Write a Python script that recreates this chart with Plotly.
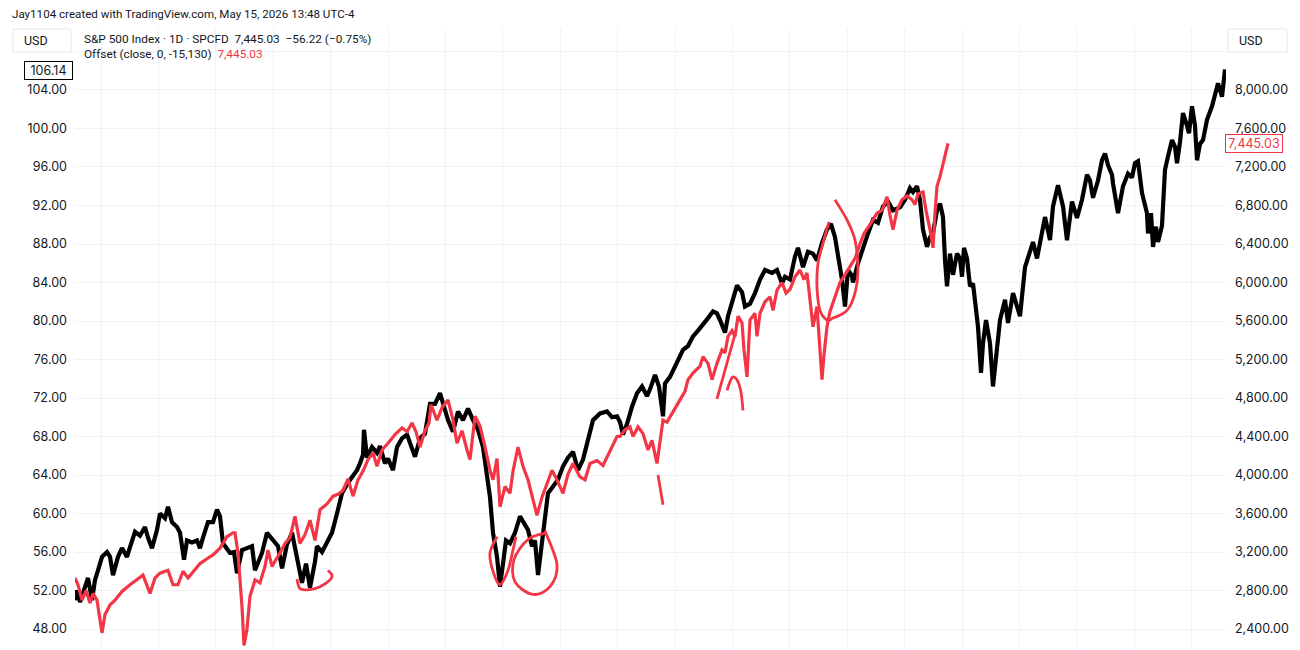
import plotly.graph_objects as go

# ---------------- data ----------------
# black series, left axis (USD), x = bar index
black_t = [0, 2, 5, 10, 13, 17, 20, 23, 27, 32, 35, 38, 43, 47, 52, 55, 60, 65, 70, 73, 77, 82, 85, 90, 93, 97,
           102, 105, 109, 112, 117, 122, 125, 128, 133, 138, 142, 145, 148, 155, 159, 162, 167, 172, 177, 180,
           187, 192, 198, 203, 207, 212, 217, 222, 227, 231, 235, 240, 242, 247, 252, 257, 262, 267, 273, 277,
           282, 285, 288, 289, 292, 297, 302, 305, 310, 313, 318, 322, 327, 332, 335, 340, 345, 350, 355, 360,
           365, 368, 373, 378, 383, 388, 393, 398, 403, 408, 412, 415, 418, 422, 425, 428, 431, 435, 440, 445,
           450, 453, 457, 460, 463, 467, 470, 473, 478, 483, 488, 493, 498, 503, 508, 513, 518, 525, 532, 537,
           542, 545, 548, 552, 557, 562, 567, 572, 575, 580, 584, 588, 590, 595, 598, 603, 608, 613, 618, 623,
           628, 633, 638, 642, 645, 650, 653, 658, 662, 667, 670, 675, 680, 685, 690, 697, 702, 707, 710, 715,
           720, 723, 728, 733, 738, 742, 747, 752, 756, 760, 763, 767, 770, 773, 777, 778, 783, 788, 793, 798,
           803, 808, 813, 818, 825, 830, 835, 838, 842, 845, 848, 852, 855, 858, 862, 865, 868, 870, 872, 875,
           878, 882, 885, 887, 889, 892, 895, 898, 900, 903, 906, 908, 911, 915, 918, 922, 925, 930, 933, 938,
           942, 945, 950, 953, 958, 962, 965, 970, 975, 978, 983, 988, 992, 997, 1002, 1007, 1012, 1015, 1018,
           1023, 1027, 1030, 1033, 1037, 1038, 1042, 1043, 1048, 1053, 1057, 1060, 1063, 1067, 1072, 1073, 1076,
           1078, 1081, 1083, 1087, 1090, 1093, 1097, 1100, 1102, 1105, 1108, 1112, 1114, 1117, 1120, 1122, 1125,
           1128, 1132, 1137, 1140, 1143, 1147, 1148, 1150]
black_v = [51.0, 52.0, 50.8, 52.4, 53.3, 51.0, 53.1, 54.1, 55.5, 56.0, 55.5, 53.6, 55.5, 56.4, 55.5, 56.5, 58.1,
           57.7, 58.6, 57.5, 56.4, 58.3, 60.0, 59.5, 60.7, 59.1, 58.6, 58.0, 55.2, 57.2, 57.0, 57.2, 56.4, 57.5,
           59.1, 59.1, 60.4, 59.7, 56.9, 55.9, 56.0, 53.8, 56.2, 56.4, 56.6, 54.1, 55.9, 58.0, 57.3, 56.6, 54.3,
           56.8, 58.0, 55.5, 52.8, 54.8, 52.3, 55.0, 56.6, 56.0, 57.0, 58.0, 60.0, 62.1, 63.2, 63.8, 64.5, 65.2,
           66.1, 68.7, 65.8, 66.9, 66.3, 67.0, 65.2, 65.7, 64.5, 66.9, 67.8, 68.2, 67.4, 65.9, 67.8, 68.3, 71.4,
           71.4, 72.5, 71.4, 69.7, 68.5, 70.6, 69.7, 70.9, 69.7, 68.7, 66.9, 64.3, 61.7, 58.0, 55.5, 52.4, 55.0,
           57.2, 56.9, 58.0, 59.7, 58.7, 58.3, 56.6, 57.2, 53.6, 56.9, 59.7, 62.1, 62.8, 63.5, 64.9, 65.8, 66.4,
           64.5, 65.6, 67.8, 69.7, 70.4, 70.6, 70.0, 70.1, 69.5, 68.2, 69.3, 71.1, 72.5, 73.2, 72.2, 72.9, 74.4,
           73.2, 70.1, 73.5, 74.2, 74.9, 75.9, 77.0, 77.4, 78.4, 79.0, 79.6, 80.3, 81.0, 80.8, 80.1, 78.8, 80.5,
           82.5, 83.7, 83.0, 81.5, 81.8, 82.9, 84.3, 85.3, 85.0, 85.3, 83.9, 84.6, 84.3, 86.7, 87.6, 85.6, 87.2,
           87.0, 86.3, 88.1, 89.5, 90.1, 88.7, 87.0, 84.3, 81.5, 85.3, 84.7, 84.0, 86.0, 87.7, 89.1, 90.5, 90.2,
           91.9, 92.4, 91.5, 91.8, 92.6, 93.8, 93.4, 94.0, 92.6, 89.5, 87.7, 88.7, 89.1, 91.5, 92.2, 90.8, 86.3,
           83.6, 87.0, 84.8, 87.0, 86.5, 84.6, 87.6, 86.5, 83.6, 83.9, 82.2, 79.4, 74.6, 77.7, 80.1, 77.7, 73.2,
           77.7, 80.1, 82.2, 79.8, 82.9, 81.6, 80.5, 85.6, 86.7, 88.2, 86.5, 88.2, 90.8, 88.4, 91.9, 94.1, 91.9,
           88.4, 92.4, 90.7, 92.6, 95.2, 94.6, 92.8, 94.6, 96.7, 97.4, 96.2, 95.2, 94.3, 92.2, 91.2, 94.0, 95.3,
           94.9, 96.4, 96.6, 93.3, 91.2, 89.1, 91.2, 87.7, 89.8, 88.2, 89.9, 95.7, 97.1, 98.8, 98.1, 96.4, 98.6,
           101.6, 100.3, 99.5, 102.3, 100.3, 96.7, 98.4, 98.8, 100.9, 102.3, 103.7, 104.7, 103.3, 104.5, 106.14]

# red series: Offset (close, 0, -15,130), right axis (USD)
red_t = [0, 3, 7, 11, 15, 18, 22, 27, 30, 35, 40, 47, 55, 62, 68, 75, 80, 85, 93, 98, 103, 108, 113, 117, 125,
         132, 138, 145, 152, 158, 160, 163, 165, 167, 169, 172, 175, 180, 185, 187, 190, 193, 197, 202, 205, 210,
         215, 220, 225, 230, 235, 240, 245, 252, 258, 263, 268, 273, 278, 283, 288, 293, 298, 302, 307, 313, 320,
         327, 332, 337, 341, 345, 350, 354, 356, 362, 367, 373, 378, 382, 387, 392, 395, 400, 405, 410, 415, 418,
         422, 425, 430, 435, 438, 443, 448, 453, 457, 462, 467, 472, 477, 482, 488, 493, 498, 505, 510, 515, 522,
         528, 535, 542, 545, 550, 555, 558, 563, 568, 573, 577, 582, 585, 588, 592, 597, 602, 607, 610, 613, 618,
         625, 628, 633, 637, 642, 647, 650, 653, 657, 660, 663, 667, 669, 672, 675, 680, 682, 685, 690, 695, 698,
         702, 707, 711, 715, 720, 725, 729, 732, 735, 738, 742, 745, 747, 749, 752, 755, 760, 765, 770, 775, 780,
         785, 789, 795, 802, 807, 812, 815, 818, 822, 827, 832, 837, 840, 843, 848, 851, 855, 858, 860, 862, 865,
         868, 870, 873]
red_v = [2930, 2860, 2700, 2800, 2670, 2770, 2700, 2360, 2550, 2650, 2700, 2790, 2860, 2910, 2960, 2770, 2930,
         2980, 3010, 2860, 2860, 3000, 2930, 2980, 3080, 3130, 3170, 3240, 3360, 3400, 3400, 3190, 2910, 2630,
         2230, 2400, 2740, 2910, 2880, 2940, 3050, 3220, 3050, 3140, 3190, 3290, 3350, 3570, 3290, 3380, 3530,
         3320, 3640, 3700, 3780, 3800, 3840, 3960, 3780, 3950, 4040, 4160, 4230, 4090, 4260, 4330, 4420, 4490,
         4450, 4540, 4450, 4290, 4460, 4540, 4730, 4570, 4700, 4780, 4570, 4330, 4460, 4260, 4160, 4610, 4510,
         4290, 4050, 3950, 4170, 3670, 3880, 3810, 4040, 4290, 4090, 3950, 3770, 3580, 3770, 3910, 4050, 3950,
         3810, 4010, 4120, 3980, 3950, 4120, 4150, 4100, 4250, 4400, 4400, 4470, 4500, 4400, 4500, 4430, 4260,
         4360, 4120, 4340, 4570, 4550, 4640, 4730, 4810, 4870, 4990, 5060, 5130, 5230, 5160, 4990, 5160, 5300,
         5270, 5440, 5500, 5440, 5650, 5580, 5300, 5020, 5610, 5680, 5440, 5680, 5800, 5850, 5710, 5920, 6000,
         5890, 5930, 6060, 6130, 6030, 6100, 5850, 5540, 5750, 5330, 4990, 5250, 5540, 5700, 5850, 6000, 6080,
         6170, 6250, 6400, 6510, 6600, 6720, 6750, 6890, 6700, 6550, 6750, 6860, 6900, 6860, 6810, 6920, 6940,
         6750, 6550, 6360, 6720, 7000, 7100, 7240, 7320, 7445.03]

left_ticks = [48, 52, 56, 60, 64, 68, 72, 76, 80, 84, 88, 92, 96, 100, 104, 108]
right_ticks = [2400, 2800, 3200, 3600, 4000, 4400, 4800, 5200, 5600, 6000, 6400, 6800, 7200, 7600, 8000]
hidden_left_ticks = [108]   # tick hidden behind the "USD" box in the reference

title_text = "Jay1104 created with TradingView.com, May 15, 2026 13:48 UTC-4"
legend_main = "S&P 500 Index · 1D · SPCFD\u00a0\u00a07,445.03\u00a0\u00a0−56.22 (−0.75%)"
legend_offset = "Offset (close, 0, -15,130)"
last_black_label = "106.14"
last_red_label = "7,445.03"

# hand-drawn marks (in chart coordinates)
hook = [(222, 53.2), (225, 52.2), (235, 52.1), (245, 52.4), (255, 53.1), (257, 53.6), (253, 54.1)]
loop_left = [(422, 57.6), (415, 55.9), (418, 54.0), (425, 52.6), (433, 54.1), (438, 56.2), (441, 57.6)]
circle = [(470, 58.2), (482, 54.7), (475, 52.4), (458, 51.6), (440, 52.9), (439, 55.2), (453, 57.3), (472, 58.0)]
dash = [(583, 64.0), (588, 60.9)]
slash = [(642, 71.9), (650, 74.9), (660, 78.6)]
arch = [(652, 72.8), (657, 74.1), (662, 73.9), (666, 72.6), (668, 70.7)]
oval = [(760, 92.6), (772, 90.5), (780, 88.4), (783, 85.3), (780, 82.9), (772, 81.1), (758, 80.3), (752, 80.1),
        (745, 81.1), (742, 83.5), (743, 86.0), (748, 88.1), (754, 90.3)]

# ---------------- style / layout ----------------
RED = "#f23645"
TXT = "#131722"
GRID = "#f0f2f5"
FONT = "Roboto, Inter, sans-serif"
TICKFONT = "Inter, Roboto, sans-serif"
W, H = 1300, 650
L, R, T, B = 75, 74, 28, 0
PW, PH = W - L - R, H - T - B
X_RANGE = [0, 1151]
Y_RANGE = [45.82, 110.44]
Y2_RANGE = [(Y_RANGE[0] - 24) * 100, (Y_RANGE[1] - 24) * 100]


def pxx(x):
    return (x - L) / PW


def pxy(y):
    return (H - B - y) / PH


def smooth_path(pts):
    d = "M %.2f,%.3f" % pts[0]
    n = len(pts)
    if n == 2:
        return d + " L %.2f,%.3f" % pts[1]
    for i in range(n - 1):
        p0 = pts[i - 1] if i > 0 else pts[i]
        p1 = pts[i]
        p2 = pts[i + 1]
        p3 = pts[i + 2] if i + 2 < n else pts[i + 1]
        c1 = (p1[0] + (p2[0] - p0[0]) / 6, p1[1] + (p2[1] - p0[1]) / 6)
        c2 = (p2[0] - (p3[0] - p1[0]) / 6, p2[1] - (p3[1] - p1[1]) / 6)
        d += " C %.2f,%.3f %.2f,%.3f %.2f,%.3f" % (c1 + c2 + p2)
    return d


fig = go.Figure()
fig.add_trace(go.Scatter(x=black_t, y=black_v, mode="lines", yaxis="y",
                         line=dict(color="#000000", width=4.2), hoverinfo="skip", showlegend=False))
fig.add_trace(go.Scatter(x=red_t, y=red_v, mode="lines", yaxis="y2",
                         line=dict(color=RED, width=3.2), hoverinfo="skip", showlegend=False))

shapes = []
for stroke in [hook, loop_left, circle, dash, slash, arch, oval]:
    shapes.append(dict(type="path", xref="x", yref="y", path=smooth_path(stroke),
                       line=dict(color=RED, width=2.8), layer="above"))

# USD boxes
shapes.append(dict(type="rect", xref="paper", yref="paper", x0=pxx(13), x1=pxx(71), y0=pxy(52), y1=pxy(29),
                   line=dict(color="#e6e8ee", width=1), fillcolor="white", layer="above"))
shapes.append(dict(type="rect", xref="paper", yref="paper", x0=pxx(1228), x1=pxx(1287), y0=pxy(52), y1=pxy(29),
                   line=dict(color="#e6e8ee", width=1), fillcolor="white", layer="above"))

annotations = [
    dict(text=title_text, x=pxx(10), y=pxy(14), xref="paper", yref="paper", xanchor="left", yanchor="middle",
         showarrow=False, font=dict(family=FONT, size=11.6, color=TXT)),
    dict(text="USD", x=pxx(22), y=pxy(40), xref="paper", yref="paper", xanchor="left", yanchor="middle",
         showarrow=False, font=dict(family=FONT, size=12.5, color=TXT)),
    dict(text="USD", x=pxx(1237), y=pxy(40), xref="paper", yref="paper", xanchor="left", yanchor="middle",
         showarrow=False, font=dict(family=FONT, size=12.5, color=TXT)),
    dict(text=legend_main, x=pxx(82), y=pxy(39), xref="paper", yref="paper", xanchor="left", yanchor="middle",
         showarrow=False, font=dict(family=FONT, size=11.8, color=TXT)),
    dict(text=legend_offset + "\u00a0\u00a0<span style='color:%s'>%s</span>" % (RED, last_red_label),
         x=pxx(82), y=pxy(54), xref="paper", yref="paper", xanchor="left", yanchor="middle",
         showarrow=False, font=dict(family=FONT, size=11.8, color=TXT)),
    dict(text=last_black_label, x=pxx(48.5), y=pxy(70.5), xref="paper", yref="paper", xanchor="center",
         yanchor="middle", showarrow=False, bgcolor="white", bordercolor="#000000", borderwidth=1, borderpad=1,
         width=45, font=dict(family=TICKFONT, size=12.5, color=TXT)),
    dict(text=last_red_label, x=pxx(1253.5), y=pxy(143), xref="paper", yref="paper", xanchor="center",
         yanchor="middle", showarrow=False, bgcolor="white", bordercolor=RED, borderwidth=1, borderpad=1,
         width=54, font=dict(family=TICKFONT, size=12.5, color=RED)),
]

fig.update_layout(
    width=W, height=H, margin=dict(l=L, r=R, t=T, b=B, pad=0),
    paper_bgcolor="white", plot_bgcolor="white",
    font=dict(family=FONT, size=12, color=TXT),
    showlegend=False,
    xaxis=dict(range=X_RANGE, showgrid=True, gridcolor=GRID, gridwidth=1, tick0=26, dtick=57.4,
               showticklabels=False, zeroline=False, showline=False, ticks=""),
    yaxis=dict(range=Y_RANGE, side="left", tickmode="array", tickvals=left_ticks,
               ticktext=["" if v in hidden_left_ticks else "%.2f" % v for v in left_ticks],
               showgrid=True, gridcolor=GRID, gridwidth=1,
               zeroline=False, showline=False, ticks="", ticklabelstandoff=7,
               tickfont=dict(family=TICKFONT, size=12.5, color=TXT)),
    yaxis2=dict(range=Y2_RANGE, side="right", overlaying="y", tickmode="array", tickvals=right_ticks,
                ticktext=["{:,.2f}".format(v) for v in right_ticks], showgrid=False, zeroline=False,
                showline=False, ticks="", ticklabelstandoff=8,
                tickfont=dict(family=TICKFONT, size=12.5, color=TXT)),
    shapes=shapes,
    annotations=annotations,
)

fig.write_html("out.html")
